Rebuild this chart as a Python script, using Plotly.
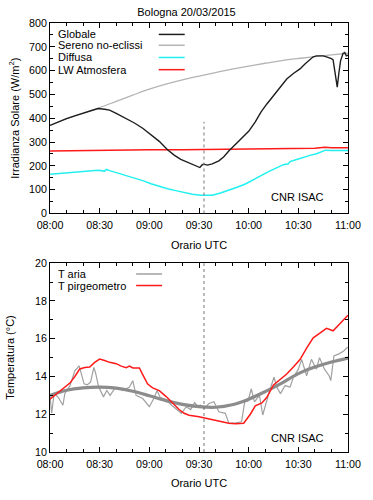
import pandas as pd
import plotly.graph_objects as go
from plotly.subplots import make_subplots

# ---------------- data (minutes after 08:00 UTC) ----------------
glob_t = [0, 5, 10, 15, 20, 25, 29, 33, 36, 40, 46, 51, 56, 61, 66, 71, 75, 79, 83, 87, 89, 90.5,
          92, 93, 95, 98, 102, 105, 108, 111, 114, 117, 120, 124, 127.5, 131, 135, 139, 143, 147,
          151, 154, 157, 159, 161, 163, 165, 167, 168.5, 170, 171, 172, 173.5, 174.5, 175.5, 177,
          178, 179, 180]
glob_v = [370, 385, 398, 410, 422, 433, 441, 438, 434, 420, 400, 380, 358, 332, 303, 268, 245, 227,
          215, 205, 200, 193, 205, 207, 203, 208, 221, 238, 262, 282, 303, 322, 345, 385, 427, 460,
          496, 530, 565, 588, 607, 628, 648, 658, 662, 663, 662, 658, 655, 650, 645, 600, 531, 590,
          641, 672, 676, 662, 665]

clear_t = [0, 10, 20, 30, 40, 50, 60, 70, 80, 90, 100, 110, 120, 130, 140, 150, 160, 170, 180]
clear_v = [370, 398, 422, 445, 471, 497, 522, 543, 561, 577, 592, 606, 619, 631, 642, 651, 659, 666, 673]

diff_t = [0, 10, 20, 29, 33, 34, 36, 40, 46, 51, 56, 61, 66, 71, 76, 81, 86, 91, 95, 98, 103, 108,
          113, 118, 123, 127.5, 132, 137, 141, 144, 145, 149, 153, 157, 161, 164, 166.5, 170, 175, 180]
diff_v = [165, 170, 176, 182, 178, 185, 180, 172, 159, 149, 138, 125, 113, 104, 96, 88, 81, 77, 76,
          77, 86, 97, 110, 124, 141, 159, 176, 193, 205, 209, 218, 227, 237, 244, 251, 258, 266, 264,
          264, 265]

lw_t = [0, 20, 40, 60, 80, 100, 120, 140, 160, 166, 170, 180]
lw_v = [262, 265, 267, 268, 268, 269, 270, 272, 274, 278, 276, 276]

taria_t = [0, 1, 2.5, 5, 7.8, 9, 12, 15, 17.6, 18.6, 20.6, 22.5, 24.5, 26.5, 27.5, 29.4, 32.3, 34.3,
           36.3, 39, 41.5, 44, 48, 50, 52, 56, 60, 62.7, 64.7, 66.5, 69.6, 73.5, 77.4, 79.4, 82.3,
           85, 87.3, 89, 91, 93, 96, 99, 102, 105.9, 108, 111.8, 115.7, 117.6, 119.6, 121.6, 123.5,
           126.5, 128.5, 130.5, 132.4, 135.3, 137.2, 139.2, 142, 145, 147, 150, 152, 155, 157.9,
           160.9, 162.8, 165.7, 168.6, 169.6, 171.5, 174.5, 177.4, 179.4, 180]
taria_v = [13.0, 12.05, 13.1, 12.9, 12.48, 13.1, 13.5, 14.3, 14.56, 14.22, 13.61, 13.56, 13.7, 14.48,
           14.2, 13.44, 12.92, 13.26, 13.0, 13.35, 13.4, 13.26, 13.44, 13.78, 13.0, 12.83, 12.4,
           12.83, 13.26, 12.9, 12.8, 12.48, 12.22, 12.05, 12.4, 12.25, 12.62, 12.45, 12.48, 12.3,
           12.57, 12.66, 12.13, 12.05, 11.53, 11.53, 11.6, 12.65, 12.7, 13.35, 12.66, 13.0, 11.96,
           12.6, 13.18, 13.96, 13.4, 13.09, 13.52, 13.44, 13.96, 14.39, 14.91, 14.04, 14.91, 14.39,
           15.0, 14.4, 14.04, 13.78, 15.09, 15.2, 15.35, 15.52, 15.55]

tsm_t = [0, 10, 20, 30, 40, 50, 60, 70, 80, 90, 100, 110, 120, 130, 140, 150, 160, 170, 180]
tsm_v = [13.0, 13.27, 13.4, 13.44, 13.38, 13.22, 12.98, 12.72, 12.52, 12.4, 12.37, 12.5, 12.8, 13.2,
         13.65, 14.15, 14.5, 14.77, 14.98]

tpir_t = [0, 4, 8, 12, 15, 18, 21, 24, 27, 30, 33, 36, 40, 43, 46, 48, 50, 54, 56, 59, 62, 66, 70,
          74, 78, 81, 84, 90, 95, 100, 105, 108, 112, 117, 121, 124, 128, 131, 135, 139, 143, 147,
          151, 155, 159, 163, 167, 171, 175, 180]
tpir_v = [12.8, 13.1, 13.35, 13.65, 14.0, 14.4, 14.48, 14.5, 14.75, 14.92, 14.85, 14.75, 14.68,
          14.55, 14.47, 14.55, 14.45, 14.45, 14.1, 13.6, 13.4, 13.25, 12.95, 12.6, 12.25, 12.05,
          11.95, 11.87, 11.78, 11.68, 11.58, 11.52, 11.5, 11.52, 12.0, 12.45, 12.6, 12.9, 13.55,
          13.85, 14.13, 14.5, 14.9, 15.5, 16.05, 16.3, 16.55, 16.42, 16.8, 17.25]

x_ticks = ["08:00", "08:30", "09:00", "09:30", "10:00", "10:30", "11:00"]
event_min = 93  # dotted line (max eclipse)

BASE = pd.Timestamp("2015-03-20 08:00")


def tt(mins):
    return [BASE + pd.Timedelta(minutes=m) for m in mins]


FONT = "Liberation Sans, Arial, sans-serif"
W, H = 373, 500
ML, MR, MT, MB = 50, 17, 23, 41
PW = W - ML - MR

fig = make_subplots(rows=2, cols=1, vertical_spacing=0.12)

fig.add_trace(go.Scatter(x=tt(clear_t), y=clear_v, mode="lines", name="Sereno no-eclissi",
                         line=dict(color="#b4b4b4", width=1.3, shape="spline")), 1, 1)
fig.add_trace(go.Scatter(x=tt(lw_t), y=lw_v, mode="lines", name="LW Atmosfera",
                         line=dict(color="#ff1a1a", width=1.5)), 1, 1)
fig.add_trace(go.Scatter(x=tt(diff_t), y=diff_v, mode="lines", name="Diffusa",
                         line=dict(color="#22f0f0", width=1.5)), 1, 1)
fig.add_trace(go.Scatter(x=tt(glob_t), y=glob_v, mode="lines", name="Globale",
                         line=dict(color="#1e1e1e", width=1.4)), 1, 1)

fig.add_trace(go.Scatter(x=tt(taria_t), y=taria_v, mode="lines", name="T aria",
                         line=dict(color="#a0a0a0", width=1.2)), 2, 1)
fig.add_trace(go.Scatter(x=tt(tsm_t), y=tsm_v, mode="lines", name="T aria (media)",
                         line=dict(color="#8c8c8c", width=3.2, shape="spline")), 2, 1)
fig.add_trace(go.Scatter(x=tt(tpir_t), y=tpir_v, mode="lines", name="T pirgeometro",
                         line=dict(color="#ff1a1a", width=1.5)), 2, 1)

tickvals = [BASE + pd.Timedelta(minutes=30 * i) for i in range(len(x_ticks))]
axis_common = dict(showline=True, linecolor="black", linewidth=1, mirror="allticks",
                   ticks="inside", ticklen=5, tickcolor="black", tickwidth=1,
                   showgrid=False, zeroline=False,
                   tickfont=dict(family=FONT, size=10.7, color="black"))
xax = dict(axis_common, range=[BASE, BASE + pd.Timedelta(minutes=180)],
           tickvals=tickvals, ticktext=x_ticks, ticklabelstandoff=2,
           minor=dict(dtick=10 * 60 * 1000, tick0=BASE, ticks="inside", ticklen=3,
                      tickcolor="black", showgrid=False),
           title=dict(text="Orario UTC", font=dict(family=FONT, size=11, color="black"), standoff=10))
fig.update_xaxes(xax, row=1, col=1)
fig.update_xaxes(xax, row=2, col=1)

fig.update_yaxes(axis_common, range=[0, 800], dtick=100,
                 minor=dict(dtick=50, ticks="inside", ticklen=3, tickcolor="black", showgrid=False),
                 row=1, col=1)
fig.update_yaxes(axis_common, range=[10, 20], dtick=2,
                 minor=dict(dtick=1, ticks="inside", ticklen=3, tickcolor="black", showgrid=False),
                 row=2, col=1)

TOP_DOM = [0.556, 1.0]
BOT_DOM = [0.0, 0.44]
fig.update_layout(xaxis=dict(domain=[0, 1]), yaxis=dict(domain=TOP_DOM),
                  xaxis2=dict(domain=[0, 1]), yaxis2=dict(domain=BOT_DOM))

# y-axis titles as rotated text
for txt, xpx, dom in (("Irradianza Solare (W/m<sup>2</sup>)", 13.5, TOP_DOM),
                      ("Temperatura (°C)", 9.0, BOT_DOM)):
    fig.add_annotation(text=txt, xref="paper", yref="paper",
                       x=(xpx - ML) / PW, y=(dom[0] + dom[1]) / 2,
                       xanchor="center", yanchor="middle", textangle=-90, showarrow=False,
                       font=dict(family=FONT, size=11, color="black"))

# dotted vertical line at max eclipse
ev = BASE + pd.Timedelta(minutes=event_min)
fig.add_shape(type="line", xref="x", yref="y", x0=ev, x1=ev, y0=0, y1=385,
              line=dict(color="#777777", width=1, dash="dot"))
fig.add_shape(type="line", xref="x2", yref="y2 domain", x0=ev, x1=ev, y0=0, y1=1,
              line=dict(color="#777777", width=1, dash="dot"))

# gnuplot-style legends (text left, sample line right)
top_leg = [("Globale", "#1e1e1e", 0.94), ("Sereno no-eclissi", "#b4b4b4", 0.883),
           ("Diffusa", "#22f0f0", 0.819), ("LW Atmosfera", "#ff1a1a", 0.755)]
for txt, col, yy in top_leg:
    fig.add_annotation(text=txt, xref="x domain", yref="y domain", x=0.02, y=yy,
                       xanchor="left", yanchor="middle", showarrow=False,
                       font=dict(family=FONT, size=11, color="black"))
    fig.add_shape(type="line", xref="x domain", yref="y domain", x0=0.365, x1=0.452,
                  y0=yy, y1=yy, line=dict(color=col, width=1.5))
bot_leg = [("T aria", "#a0a0a0", 0.943), ("T pirgeometro", "#ff1a1a", 0.882)]
for txt, col, yy in bot_leg:
    fig.add_annotation(text=txt, xref="x2 domain", yref="y2 domain", x=0.02, y=yy,
                       xanchor="left", yanchor="middle", showarrow=False,
                       font=dict(family=FONT, size=11, color="black"))
    fig.add_shape(type="line", xref="x2 domain", yref="y2 domain", x0=0.289, x1=0.376,
                  y0=yy, y1=yy, line=dict(color=col, width=1.5))

for xr, yr, yy in (("x domain", "y domain", 0.086), ("x2 domain", "y2 domain", 0.074)):
    fig.add_annotation(text="CNR ISAC", xref=xr, yref=yr,
                       x=0.832, y=yy, xanchor="center", yanchor="middle", showarrow=False,
                       font=dict(family=FONT, size=11, color="black"))

fig.update_layout(
    width=W, height=H, showlegend=False,
    paper_bgcolor="white", plot_bgcolor="white",
    margin=dict(l=ML, r=MR, t=MT, b=MB),
    title=dict(text="Bologna 20/03/2015", x=186.5 / W, xanchor="center",
               y=1 - 11.7 / H, yanchor="middle",
               font=dict(family=FONT, size=11, color="black")),
    font=dict(family=FONT, color="black"),
)

fig.write_html("out.html", config={"displayModeBar": False},
               post_script="document.body.style.margin='0px';")
